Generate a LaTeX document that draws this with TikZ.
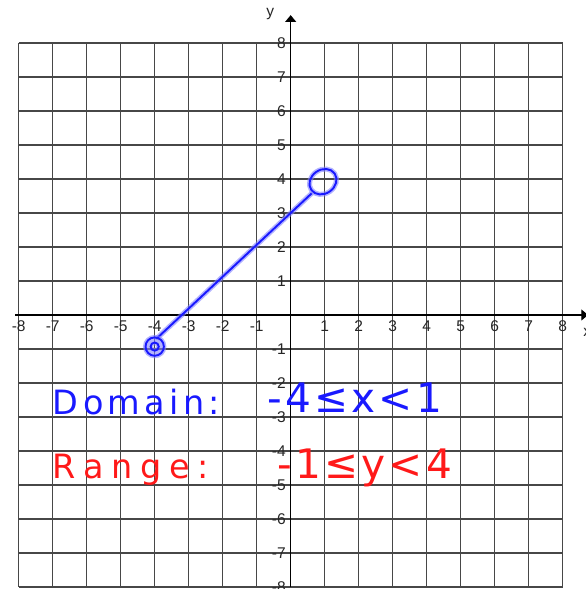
\documentclass[tikz,border=0pt]{standalone}
\usepackage{fontspec}
\setmainfont{Liberation Sans}
\newfontfamily\handfont{DejaVu Sans}
\usetikzlibrary{arrows.meta}
\definecolor{penblue}{RGB}{25,25,255}
\definecolor{penred}{RGB}{255,25,25}

\begin{document}
\begin{tikzpicture}[x=1cm,y=1cm,
  gridline/.style={black!72,line width=.95pt},
  axisline/.style={black,line width=1pt,-{Triangle[length=.2cm,width=.32cm]}},
  ticklabel/.style={inner sep=0pt,text=black!85,font=\fontsize{13}{14}\selectfont},
  bluepen/.style={draw=penblue,line width=1.6pt,line cap=round,preaction={draw=penblue!55,line width=4.2pt,draw opacity=.6}},
  handtext/.style={inner sep=0pt,anchor=base west}]
\useasboundingbox (-8.55,-8.06) rectangle (8.685,9.265);
% grid
\foreach \k in {-8,...,8}{
  \draw[gridline] (\k,-8)--(\k,8);
  \draw[gridline] (-8,\k)--(8,\k);}
% axes
\draw[axisline] (-8.1,0)--(8.75,0);
\draw[axisline] (0,-8)--(0,8.82);
\node[ticklabel] (ylab) at (-.6,8.85) {y};
\node[ticklabel,anchor=west] (xlab) at (8.6,-.5) {x};
\foreach \k in {-8,...,-1,1,2,...,8}{
  \node[ticklabel,anchor=north] (xt\k) at (\k,-.15) {\k};
  \node[ticklabel,anchor=east] (yt\k) at (-.14,\k) {\k};}
% graph
\draw[bluepen] (-3.95,-.7)--(.62,3.58);
\draw[bluepen,rotate around={35:(.95,3.92)}] (.95,3.92) ellipse (.42 and .35);
\draw[bluepen] (-4,-.93) circle (.27) (-4,-.93) circle (.12);
% domain and range
\node[handtext,text=penblue,font=\handfont\fontsize{28}{30}\selectfont\addfontfeature{LetterSpace=13}] (domain) at (-7,-2.94) {Domain:};
\node[handtext,text=penblue,font=\handfont\fontsize{34}{36}\selectfont\addfontfeature{LetterSpace=8}] (domainset) at (-.7,-2.86) {-4≤x<1};
\node[handtext,text=penred,font=\handfont\fontsize{28}{30}\selectfont\addfontfeature{LetterSpace=23}] (range) at (-7,-4.8) {Range:};
\node[handtext,text=penred,font=\handfont\fontsize{34}{36}\selectfont\addfontfeature{LetterSpace=8}] (rangeset) at (-.4,-4.82) {-1≤y<4};
\end{tikzpicture}
\end{document}
